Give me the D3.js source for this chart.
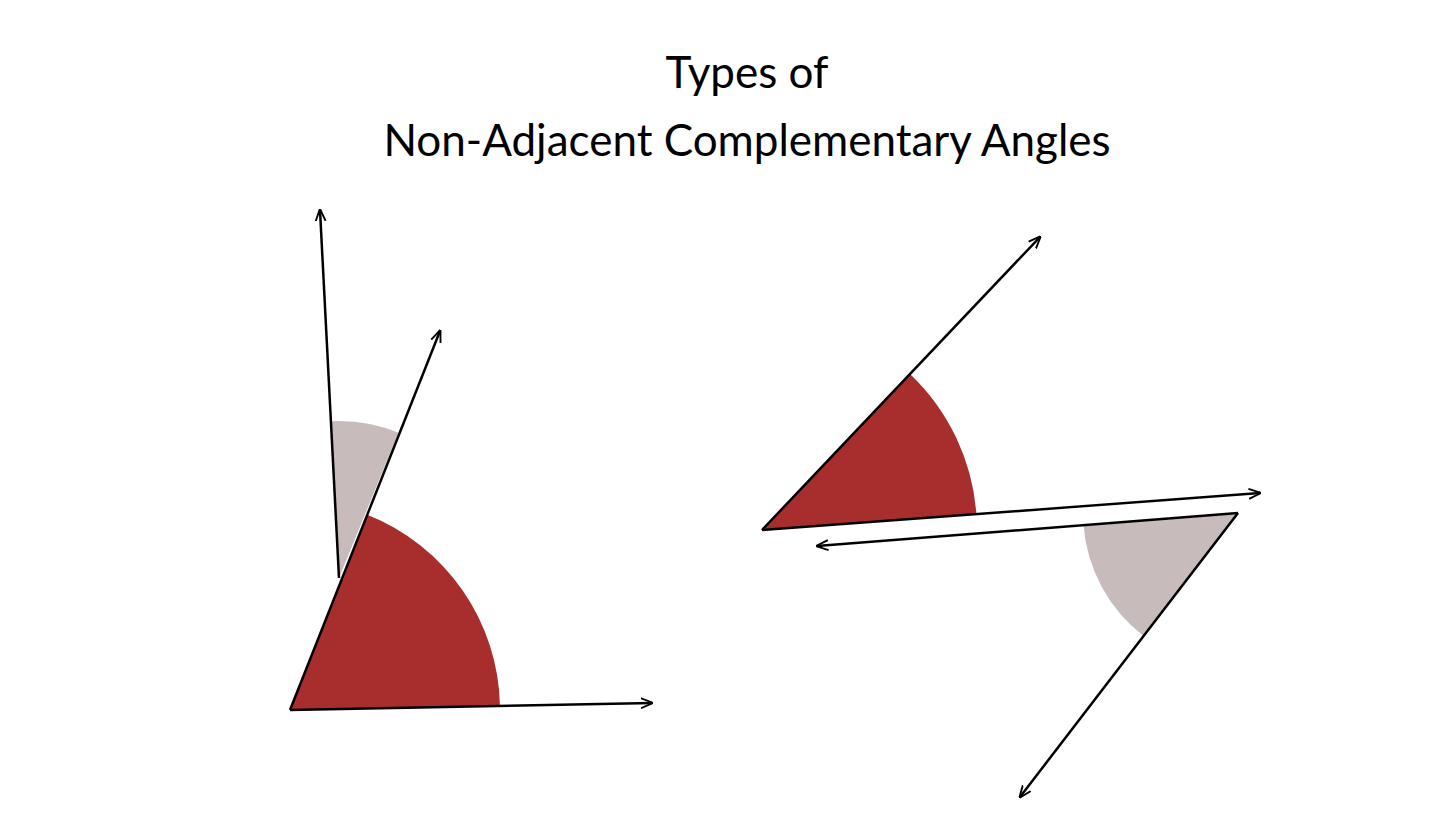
<!DOCTYPE html>
<html>
<head>
<meta charset="utf-8">
<script src="https://cdn.jsdelivr.net/npm/d3@7"></script>
<style>
  body { margin: 0; background: #fff; }
  text { font-family: Lato, "Open Sans", sans-serif; }
</style>
</head>
<body>
<svg id="chart" width="1454" height="817"></svg>
<script>
const titleLines = ['Types of', 'Non-Adjacent Complementary Angles']

// wedges: vertex, the two ray directions (points on the rays), radius, fill kind
const wedgeVertices = [[290, 710], [339, 578], [762, 530], [1238, 513]]
const wedgeRayA = [[652, 703], [320, 210], [1040, 237], [817, 546]]
const wedgeRayB = [[440, 331], [440, 331], [1260, 493], [1020, 797]]
const wedgeRadius = [210, 157, 215, 155]
const wedgeKind = ['major', 'minor', 'major', 'minor']

// rays drawn as arrows: from -> to
const rayFrom = [[290, 710], [290, 710], [339, 578], [762, 530], [762, 530], [1238, 513], [1238, 513]]
const rayTo = [[652, 703], [440, 331], [320, 210], [1040, 237], [1260, 493], [817, 546], [1020, 797]]

const colors = { major: '#a82e2e', minor: '#c7bcbb' }

const svg = d3.select('#chart')

svg.append('defs').append('marker')
    .attr('id', 'head')
    .attr('viewBox', '0 -5 10 10')
    .attr('refX', 9).attr('refY', 0)
    .attr('markerWidth', 5).attr('markerHeight', 5)
    .attr('markerUnits', 'strokeWidth')
    .attr('orient', 'auto')
  .append('path')
    .attr('d', 'M0,-4L10,0L0,4')
    .attr('fill', 'none')
    .attr('stroke', '#000')
    .attr('stroke-width', 1.5)

// d3.arc angle: 0 at 12 o'clock, clockwise
function angleTo(v, p) {
    return Math.atan2(p[0] - v[0], -(p[1] - v[1]))
}

const arc = d3.arc().innerRadius(0)

wedgeVertices.forEach((v, i) => {
    let a = angleTo(v, wedgeRayA[i])
    let b = angleTo(v, wedgeRayB[i])
    // take the short way round
    let d = b - a
    while (d > Math.PI) d -= 2 * Math.PI
    while (d < -Math.PI) d += 2 * Math.PI
    const start = Math.min(a, a + d), end = Math.max(a, a + d)
    svg.append('path')
        .attr('transform', `translate(${v[0]},${v[1]})`)
        .attr('d', arc({ outerRadius: wedgeRadius[i], startAngle: start, endAngle: end }))
        .attr('fill', colors[wedgeKind[i]])
})

svg.selectAll('line.ray')
    .data(rayFrom)
  .join('line')
    .attr('class', 'ray')
    .attr('x1', d => d[0]).attr('y1', d => d[1])
    .attr('x2', (d, i) => rayTo[i][0]).attr('y2', (d, i) => rayTo[i][1])
    .attr('stroke', '#000')
    .attr('stroke-width', 2.5)
    .attr('marker-end', 'url(#head)')

svg.selectAll('text.title')
    .data(titleLines)
  .join('text')
    .attr('class', 'title')
    .attr('x', 747)
    .attr('y', (d, i) => 88 + i * 68)
    .attr('text-anchor', 'middle')
    .attr('font-size', 44)
    .attr('fill', '#000')
    .text(d => d)
</script>
</body>
</html>
